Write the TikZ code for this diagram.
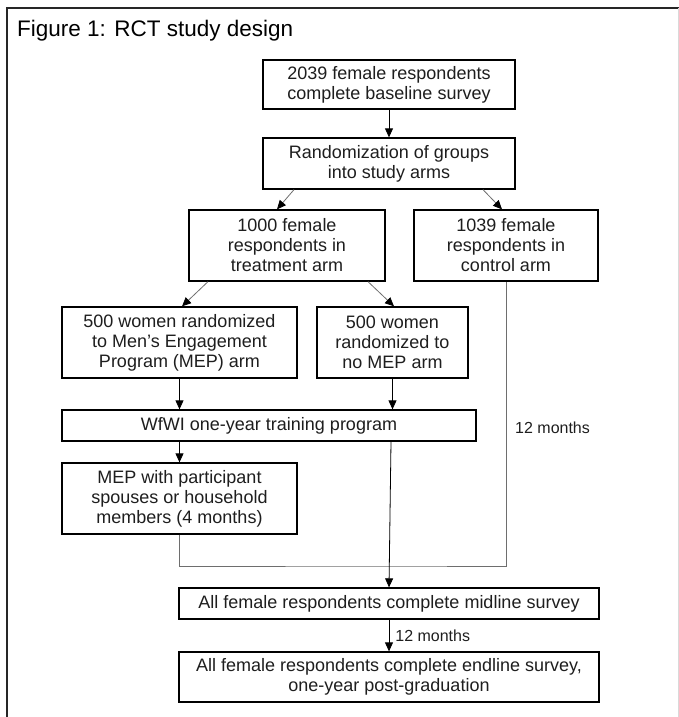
\documentclass[tikz,border=0pt]{standalone}
\usepackage{fontspec}
\setmainfont{Liberation Sans}
\usetikzlibrary{arrows.meta}
\definecolor{ink}{RGB}{30,30,30}
\definecolor{wire}{RGB}{110,110,110}
\tikzset{
  box/.style={draw=black,line width=1.3pt,fill=white,align=center,inner sep=2pt,text=ink,font=\fontsize{18}{20}\selectfont},
  arr/.style={-{Triangle[width=8pt,length=9pt,black]},draw=black,line width=0.8pt},
  slant/.style={arr,draw=wire},
  link/.style={draw=wire,line width=0.8pt},
  note/.style={text=ink,font=\fontsize{16}{18}\selectfont,inner sep=0pt},
  frame/.style={draw=black!85,line width=2pt}
}
\begin{document}
\begin{tikzpicture}[x=1pt,y=-1pt]
\useasboundingbox (0,0) rectangle (679,717);
\draw[frame] (7,717) -- (7,8) -- (679,8);
\draw[gray!30,line width=0.6pt] (678.5,8) -- (678.5,717);
\node[anchor=west,text=black,font=\fontsize{22.5}{26}\selectfont,inner sep=0pt] (title) at (17,31) {Figure 1: RCT study design};

\node[box,minimum width=252pt,minimum height=49pt] (base) at (389,84.5) {2039 female respondents\\complete baseline survey};
\node[box,minimum width=252pt,minimum height=51pt] (rand) at (389,163.5) {Randomization of groups\\into study arms};
\node[box,minimum width=196pt,minimum height=71pt] (treat) at (287,245.5) {1000 female\\respondents in\\treatment arm};
\node[box,minimum width=184pt,minimum height=71pt] (ctrl) at (506,245.5) {1039 female\\respondents in\\control arm};
\node[box,minimum width=235pt,minimum height=71pt] (mep) at (179.5,342.5) {500 women randomized\\to Men's Engagement\\Program (MEP) arm};
\node[box,minimum width=151pt,minimum height=71pt] (nomep) at (392.5,342.5) {500 women\\randomized to\\no MEP arm};
\node[box,minimum width=414pt,minimum height=31pt] (train) at (269,425.5) {WfWI one-year training program};
\node[box,minimum width=235pt,minimum height=71pt] (spouse) at (179.5,498.5) {MEP with participant\\spouses or household\\members (4 months)};
\node[box,minimum width=420pt,minimum height=31pt] (mid) at (389,603.5) {All female respondents complete midline survey};
\node[box,minimum width=420pt,minimum height=50pt] (endl) at (389,677) {All female respondents complete endline survey,\\one-year post-graduation};
\coordinate (join) at (389,566);
\node[note,anchor=west] (wait) at (515,428) {12 months};

\draw[arr] (base) -- (rand);
\draw[slant] ([xshift=-95pt]rand.south) -- ([xshift=-10pt]treat.north);
\draw[slant] ([xshift=94pt]rand.south) -- ([xshift=-4pt]ctrl.north);
\draw[slant] ([xshift=-79pt]treat.south) -- ([xshift=2.5pt]mep.north);
\draw[slant] ([xshift=81pt]treat.south) -- ([xshift=1.5pt]nomep.north);
\draw[arr] (mep) -- (mep.south |- train.north);
\draw[arr] (nomep) -- (nomep.south |- train.north);
\draw[arr] (spouse.north |- train.south) -- (spouse);
\draw[link] (spouse.south) |- (join) -| (ctrl.south);
\draw[arr] ([xshift=122pt]train.south) -- (mid.north);
\draw[arr] (mid) -- node[note,right=6pt] (gap) {12 months} (endl);
\end{tikzpicture}
\end{document}
